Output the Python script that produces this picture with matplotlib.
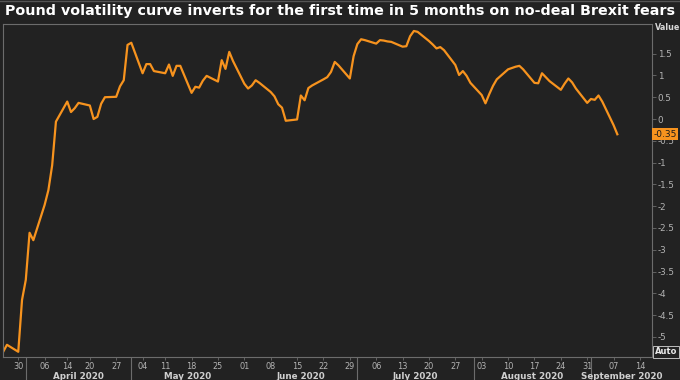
#!/usr/bin/env python3
"""Pound volatility curve chart (Bloomberg style, dark)."""

import matplotlib

matplotlib.use("Agg")
import matplotlib.pyplot as plt
import matplotlib.transforms as mtransforms
from matplotlib.lines import Line2D
import numpy as np
import pandas as pd

TITLE = "Pound volatility curve inverts for the first time in 5 months on no-deal Brexit fears"
START, END = "2020-03-26", "2020-09-08"
HOLIDAYS = pd.to_datetime(["2020-04-10", "2020-04-13", "2020-05-08"])

# one value per trading day, week by week
VALUES = [
    -5.34, -5.18,
    -5.34, -4.15, -3.69, -2.61, -2.78,
    -1.97, -1.63, -1.06, -0.06,
    0.40, 0.16, 0.25, 0.37,
    0.31, 0.00, 0.05, 0.35, 0.50,
    0.51, 0.75, 0.89, 1.70, 1.75,
    1.05, 1.26, 1.26, 1.10,
    1.05, 1.25, 0.99, 1.22, 1.22,
    0.60, 0.74, 0.72, 0.88, 0.99,
    0.86, 1.35, 1.15, 1.54, 1.33,
    0.81, 0.70, 0.77, 0.89, 0.83,
    0.62, 0.52, 0.34, 0.26, -0.04,
    -0.01, 0.54, 0.43, 0.71, 0.77,
    0.91, 0.96, 1.08, 1.31, 1.23,
    0.93, 1.44, 1.72, 1.83, 1.81,
    1.73, 1.81, 1.80, 1.78, 1.77,
    1.66, 1.67, 1.90, 2.02, 2.00,
    1.79, 1.71, 1.62, 1.65, 1.58,
    1.24, 1.01, 1.10, 0.99, 0.83,
    0.55, 0.36, 0.57, 0.76, 0.91,
    1.14, 1.17, 1.20, 1.22, 1.14,
    0.83, 0.82, 1.05, 0.96, 0.87,
    0.67, 0.81, 0.93, 0.84, 0.70,
    0.37, 0.46, 0.44, 0.54, 0.40,
    -0.14, -0.35,
]
Y_TICKS = [1.5, 1, 0.5, 0, -0.5, -1, -1.5, -2, -2.5, -3, -3.5, -4, -4.5, -5]
MONTHS = ["2020-04", "2020-05", "2020-06", "2020-07", "2020-08", "2020-09"]
WEEKS_FROM, WEEKS_TO = "2020-03-30", "2020-09-14"

BG = "#222222"
ORANGE = "#f7931e"
GREY = "#b4b4b4"
FRAME = "#6c6c6c"

plt.rcParams["font.family"] = "DejaVu Sans"

dates = pd.bdate_range(START, END)
dates = dates[~dates.isin(HOLIDAYS)]
assert len(dates) == len(VALUES)

ORIGIN = pd.Timestamp(WEEKS_FROM)


def slot(d):
    # calendar axis with the bank holidays squeezed out
    d = pd.Timestamp(d)
    return (d - ORIGIN).days - int((HOLIDAYS < d).sum())


x = np.array([slot(d) for d in dates])

fig = plt.figure(figsize=(6.8, 3.8), dpi=100, facecolor=BG)
ax = fig.add_axes([3 / 680, 23 / 380, 649 / 680, 333 / 380], facecolor=BG)
ax.plot(x, VALUES, color=ORANGE, lw=1.6, solid_joinstyle="round")

xmin, xmax = -4.05, 168.2
ax.set_xlim(xmin, xmax)
ax.set_ylim(-5.46, 2.18)

for side in ax.spines.values():
    side.set_color(FRAME)
    side.set_linewidth(0.8)

# right value axis
ax.yaxis.tick_right()
ax.set_yticks(Y_TICKS)
ax.set_yticklabels([f"{v:g}" for v in Y_TICKS])
ax.tick_params(axis="y", colors=FRAME, labelcolor=GREY, labelsize=6.3, length=3, width=0.6, pad=1)

# weekly ticks on the first trading day of each week
weeks = []
for monday in pd.date_range(WEEKS_FROM, WEEKS_TO, freq="W-MON"):
    day = monday
    while day in HOLIDAYS:
        day += pd.Timedelta(days=1)
    weeks.append(day)
ax.set_xticks([slot(d) for d in weeks])
ax.set_xticklabels([d.strftime("%d") for d in weeks])
ax.tick_params(axis="x", colors=FRAME, labelcolor=GREY, labelsize=5.9, length=2.5, width=0.6, pad=0.8)

# month separators and names
starts = [pd.Timestamp(m + "-01") for m in MONTHS]
ax.set_xticks([slot(s) for s in starts], minor=True)
ax.tick_params(axis="x", which="minor", colors=FRAME, length=17, width=0.8)
blend = mtransforms.blended_transform_factory(ax.transData, ax.transAxes)
for s in starts:
    nxt = s + pd.offsets.MonthBegin(1)
    lo, hi = max(slot(s), xmin), min(slot(nxt), xmax)
    ax.text((lo + hi) / 2, -0.058, s.strftime("%B %Y"), transform=blend, ha="center",
            va="center", fontsize=6.3, weight="bold", color="#cfcfcf")

# last value tag
ax.annotate(f"{VALUES[-1]:.2f}", xy=(1, VALUES[-1]), xycoords=ax.get_yaxis_transform(),
            xytext=(0.8, 0), textcoords="offset points", ha="left", va="center",
            fontsize=6.5, color="#1a1a1a",
            bbox=dict(boxstyle="square,pad=0.15", fc=ORANGE, ec="none"))

fig.text(655 / 680, 1 - 28 / 380, "Value", fontsize=5.8, weight="bold", color="#d8d8d8", va="center")
fig.text(655 / 680, 1 - 352 / 380, "Auto", fontsize=6, weight="bold", color="#e8e8e8", va="center",
         bbox=dict(boxstyle="square,pad=0.2", fc="none", ec="#bdbdbd", lw=0.7))

fig.add_artist(Line2D([0, 1], [0.998, 0.998], transform=fig.transFigure, color="#555555", lw=1))

title = fig.text(5 / 680, 1 - 11 / 380, TITLE, fontsize=12, weight="bold", color="white",
                 va="center")
fig.canvas.draw()
width = title.get_window_extent().width
title.set_fontsize(title.get_fontsize() * 666 / width)

fig.savefig("out.png", dpi=100, facecolor=BG)
